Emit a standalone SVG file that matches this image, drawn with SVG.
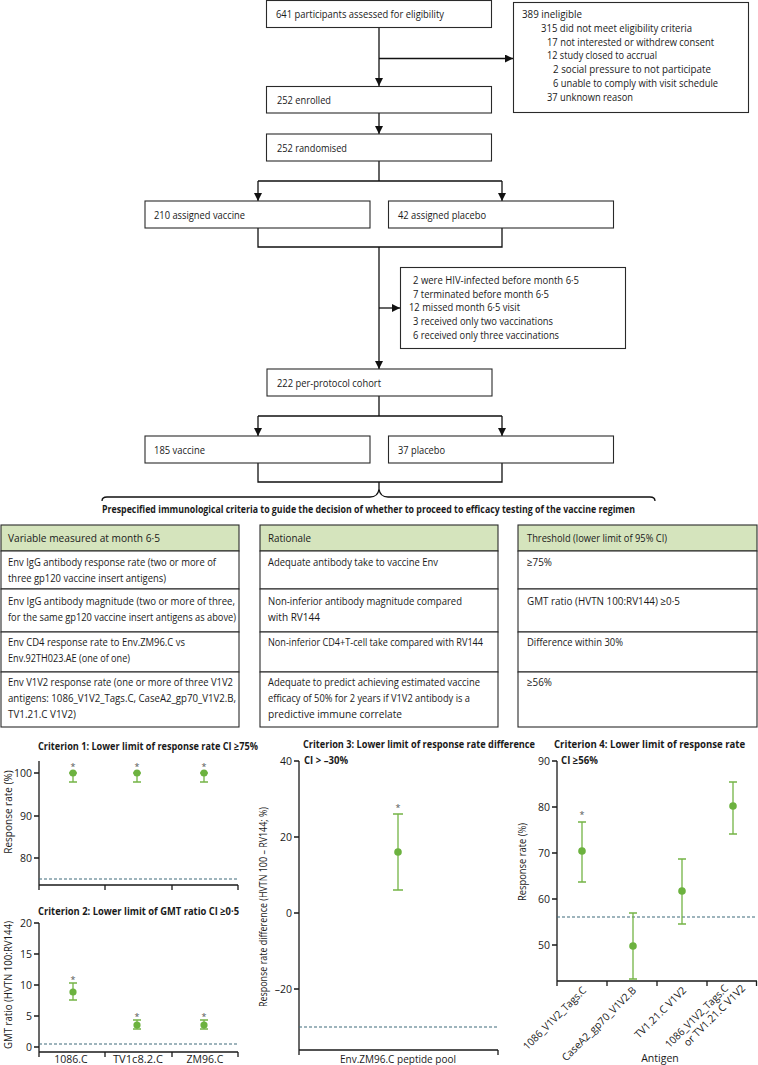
<svg xmlns="http://www.w3.org/2000/svg" width="758" height="1065" viewBox="0 0 758 1065">
<style>
text{font-family:"Open Sans","Noto Sans","Liberation Sans",sans-serif;fill:#1a1a1a}
.f{font-size:10.5px}
.t{font-size:10.5px}
.b{font-weight:bold}
.box{fill:#fff;stroke:#2a2a2a;stroke-width:1.1}
.hdr{fill:#d5e4bd;stroke:#2a2a2a;stroke-width:1.1}
.cell{fill:#fff;stroke:#2a2a2a;stroke-width:1.1}
.ln{fill:none;stroke:#111;stroke-width:1.3}
.ax{fill:none;stroke:#1a1a1a;stroke-width:1.3}
.dash{fill:none;stroke:#3e6a7a;stroke-width:1.1;stroke-dasharray:3 2}
.eb{fill:none;stroke:#74b446;stroke-width:1.3}
.dot{fill:#6cb23f}
.tk{font-size:10.5px}
.yl{font-size:10px}
.ast{font-size:9px;fill:#555}
.ct{font-size:10.5px;font-weight:bold}
</style>
<defs>
<marker id="ah" markerUnits="userSpaceOnUse" markerWidth="8" markerHeight="8" refX="8" refY="4" orient="auto">
<path d="M0,0 L8,4 L0,8 z" fill="#111"/>
</marker>
</defs>

<g id="connectors">
<path class="ln" d="M379,27 V86" marker-end="url(#ah)"/>
<path class="ln" d="M379,58.5 H513" marker-end="url(#ah)"/>
<path class="ln" d="M379,113 V134" marker-end="url(#ah)"/>
<path class="ln" d="M379,161 V181 M258,181 H502"/>
<path class="ln" d="M258,181 V201" marker-end="url(#ah)"/>
<path class="ln" d="M502,181 V201" marker-end="url(#ah)"/>
<path class="ln" d="M258,228 V247 H502 V228"/>
<path class="ln" d="M379,247 V369" marker-end="url(#ah)"/>
<path class="ln" d="M379,308 H400" marker-end="url(#ah)"/>
<path class="ln" d="M379,396 V416 M258,416 H502"/>
<path class="ln" d="M258,416 V436" marker-end="url(#ah)"/>
<path class="ln" d="M502,416 V436" marker-end="url(#ah)"/>
<path class="ln" d="M258,463 V482 H502 V463 M379,482 V489"/>
<path class="ln" d="M102,501 Q102,497 107,497 H370 Q378,497 379,489 Q380,497 388,497 H650 Q655,497 655,501"/>
</g>

<g id="n-assessed">
<rect class="box" x="266.5" y="0.5" width="225" height="27"/>
<text class="f" x="276" y="17.5" textLength="168" lengthAdjust="spacingAndGlyphs">641 participants assessed for eligibility</text>
</g>
<g id="n-ineligible">
<rect class="box" x="513.5" y="2.5" width="235" height="110"/>
<text class="f" x="522" y="17.5" textLength="60" lengthAdjust="spacingAndGlyphs">389 ineligible</text>
<text class="f" x="541" y="31.5" textLength="151" lengthAdjust="spacingAndGlyphs">315 did not meet eligibility criteria</text>
<text class="f" x="547" y="45.5" textLength="167" lengthAdjust="spacingAndGlyphs">17 not interested or withdrew consent</text>
<text class="f" x="547" y="59" textLength="110" lengthAdjust="spacingAndGlyphs">12 study closed to accrual</text>
<text class="f" x="553" y="73" textLength="158" lengthAdjust="spacingAndGlyphs">2 social pressure to not participate</text>
<text class="f" x="553" y="87" textLength="165" lengthAdjust="spacingAndGlyphs">6 unable to comply with visit schedule</text>
<text class="f" x="547" y="101" textLength="86" lengthAdjust="spacingAndGlyphs">37 unknown reason</text>
</g>
<g id="n-enrolled">
<rect class="box" x="266.5" y="86.5" width="225" height="26.5"/>
<text class="f" x="277" y="104" textLength="54" lengthAdjust="spacingAndGlyphs">252 enrolled</text>
</g>
<g id="n-randomised">
<rect class="box" x="266.5" y="134" width="225" height="27"/>
<text class="f" x="277" y="151.5" textLength="70" lengthAdjust="spacingAndGlyphs">252 randomised</text>
</g>
<g id="n-vaccine">
<rect class="box" x="145" y="201" width="225" height="27"/>
<text class="f" x="154" y="218.5" textLength="91" lengthAdjust="spacingAndGlyphs">210 assigned vaccine</text>
</g>
<g id="n-placebo">
<rect class="box" x="388.5" y="201" width="225" height="27"/>
<text class="f" x="398" y="218.5" textLength="88" lengthAdjust="spacingAndGlyphs">42 assigned placebo</text>
</g>
<g id="n-excluded">
<rect class="box" x="400.5" y="267.5" width="225" height="81"/>
<text class="f" x="413" y="284" textLength="166" lengthAdjust="spacingAndGlyphs">2 were HIV-infected before month 6·5</text>
<text class="f" x="413" y="297.5" textLength="136" lengthAdjust="spacingAndGlyphs">7 terminated before month 6·5</text>
<text class="f" x="409" y="311" textLength="111" lengthAdjust="spacingAndGlyphs">12 missed month 6·5 visit</text>
<text class="f" x="413" y="325" textLength="140" lengthAdjust="spacingAndGlyphs">3 received only two vaccinations</text>
<text class="f" x="413" y="338.5" textLength="146" lengthAdjust="spacingAndGlyphs">6 received only three vaccinations</text>
</g>
<g id="n-perprotocol">
<rect class="box" x="267" y="369" width="225" height="27"/>
<text class="f" x="277" y="386.5" textLength="104" lengthAdjust="spacingAndGlyphs">222 per-protocol cohort</text>
</g>
<g id="n-pp-vaccine">
<rect class="box" x="145" y="436" width="225" height="27"/>
<text class="f" x="154" y="453.5" textLength="51" lengthAdjust="spacingAndGlyphs">185 vaccine</text>
</g>
<g id="n-pp-placebo">
<rect class="box" x="388.5" y="436" width="225" height="27"/>
<text class="f" x="398" y="453.5" textLength="47" lengthAdjust="spacingAndGlyphs">37 placebo</text>
</g>

<g id="criteria-title">
<text class="b" x="102" y="513" font-size="10.5" textLength="533" lengthAdjust="spacingAndGlyphs">Prespecified immunological criteria to guide the decision of whether to proceed to efficacy testing of the vaccine regimen</text>
</g>

<g id="table-variable">
<rect class="hdr" x="1" y="525" width="238" height="26"/>
<rect class="cell" x="1" y="551" width="238" height="38"/>
<rect class="cell" x="1" y="589" width="238" height="43"/>
<rect class="cell" x="1" y="632" width="238" height="40"/>
<rect class="cell" x="1" y="672" width="238" height="55"/>
<text class="t" x="8" y="541.5" textLength="152" lengthAdjust="spacingAndGlyphs">Variable measured at month 6·5</text>
<text class="t" x="8" y="566" textLength="208" lengthAdjust="spacingAndGlyphs">Env IgG antibody response rate (two or more of</text>
<text class="t" x="8" y="582" textLength="158" lengthAdjust="spacingAndGlyphs">three gp120 vaccine insert antigens)</text>
<text class="t" x="8" y="605" textLength="227" lengthAdjust="spacingAndGlyphs">Env IgG antibody magnitude (two or more of three,</text>
<text class="t" x="8" y="621" textLength="228" lengthAdjust="spacingAndGlyphs">for the same gp120 vaccine insert antigens as above)</text>
<text class="t" x="8" y="646" textLength="177" lengthAdjust="spacingAndGlyphs">Env CD4 response rate to Env.ZM96.C vs</text>
<text class="t" x="8" y="662" textLength="122" lengthAdjust="spacingAndGlyphs">Env.92TH023.AE (one of one)</text>
<text class="t" x="8" y="686" textLength="225" lengthAdjust="spacingAndGlyphs">Env V1V2 response rate (one or more of three V1V2</text>
<text class="t" x="8" y="702" textLength="228" lengthAdjust="spacingAndGlyphs">antigens: 1086_V1V2_Tags.C, CaseA2_gp70_V1V2.B,</text>
<text class="t" x="8" y="718" textLength="68" lengthAdjust="spacingAndGlyphs">TV1.21.C V1V2)</text>
</g>
<g id="table-rationale">
<rect class="hdr" x="260" y="525" width="238" height="26"/>
<rect class="cell" x="260" y="551" width="238" height="38"/>
<rect class="cell" x="260" y="589" width="238" height="43"/>
<rect class="cell" x="260" y="632" width="238" height="40"/>
<rect class="cell" x="260" y="672" width="238" height="55"/>
<text class="t" x="268" y="541.5" textLength="43" lengthAdjust="spacingAndGlyphs">Rationale</text>
<text class="t" x="268" y="566" textLength="170" lengthAdjust="spacingAndGlyphs">Adequate antibody take to vaccine Env</text>
<text class="t" x="268" y="605" textLength="194" lengthAdjust="spacingAndGlyphs">Non-inferior antibody magnitude compared</text>
<text class="t" x="268" y="621" textLength="52" lengthAdjust="spacingAndGlyphs">with RV144</text>
<text class="t" x="268" y="646" textLength="215" lengthAdjust="spacingAndGlyphs">Non-inferior CD4+T-cell take compared with RV144</text>
<text class="t" x="268" y="686" textLength="212" lengthAdjust="spacingAndGlyphs">Adequate to predict achieving estimated vaccine</text>
<text class="t" x="268" y="702" textLength="202" lengthAdjust="spacingAndGlyphs">efficacy of 50% for 2 years if V1V2 antibody is a</text>
<text class="t" x="268" y="718" textLength="134" lengthAdjust="spacingAndGlyphs">predictive immune correlate</text>
</g>
<g id="table-threshold">
<rect class="hdr" x="518" y="525" width="239" height="26"/>
<rect class="cell" x="518" y="551" width="239" height="38"/>
<rect class="cell" x="518" y="589" width="239" height="43"/>
<rect class="cell" x="518" y="632" width="239" height="40"/>
<rect class="cell" x="518" y="672" width="239" height="55"/>
<text class="t" x="527" y="541.5" textLength="140" lengthAdjust="spacingAndGlyphs">Threshold (lower limit of 95% CI)</text>
<text class="t" x="527" y="566" textLength="25" lengthAdjust="spacingAndGlyphs">≥75%</text>
<text class="t" x="527" y="605" textLength="153" lengthAdjust="spacingAndGlyphs">GMT ratio (HVTN 100:RV144) ≥0·5</text>
<text class="t" x="527" y="646" textLength="96" lengthAdjust="spacingAndGlyphs">Difference within 30%</text>
<text class="t" x="527" y="686" textLength="25" lengthAdjust="spacingAndGlyphs">≥56%</text>
</g>

<g id="chart1">
<text class="ct" x="38" y="750" textLength="220" lengthAdjust="spacingAndGlyphs">Criterion 1: Lower limit of response rate CI ≥75%</text>
<path class="ax" d="M39,761 V885 H238 M34,773 H39 M34,816 H39 M34,858 H39 M39,885 V890 M105,885 V890 M172,885 V890 M238,885 V890"/>
<text class="tk" x="32" y="777" text-anchor="end">100</text>
<text class="tk" x="32" y="820" text-anchor="end">90</text>
<text class="tk" x="32" y="862" text-anchor="end">80</text>
<text class="yl" transform="translate(12,812) rotate(-90)" text-anchor="middle">Response rate (%)</text>
<path class="dash" d="M39,879 H238"/>
<path class="eb" d="M73,773 V782 M69,782 H77 M69,773 H77 M137,773 V782 M133,782 H141 M133,773 H141 M204,773 V782 M200,782 H208 M200,773 H208"/>
<circle class="dot" cx="73" cy="773" r="3.6"/>
<circle class="dot" cx="137" cy="773" r="3.6"/>
<circle class="dot" cx="204" cy="773" r="3.6"/>
<text class="ast" x="73" y="770" text-anchor="middle">*</text>
<text class="ast" x="137" y="770" text-anchor="middle">*</text>
<text class="ast" x="204" y="770" text-anchor="middle">*</text>
</g>

<g id="chart2">
<text class="ct" x="38" y="915" textLength="201" lengthAdjust="spacingAndGlyphs">Criterion 2: Lower limit of GMT ratio CI ≥0·5</text>
<path class="ax" d="M39,923 V1052 H238 M34,923 H39 M34,954 H39 M34,985 H39 M34,1016 H39 M34,1047 H39 M39,1052 V1057 M105,1052 V1057 M172,1052 V1057 M238,1052 V1057"/>
<text class="tk" x="32" y="927" text-anchor="end">20</text>
<text class="tk" x="32" y="958" text-anchor="end">15</text>
<text class="tk" x="32" y="989" text-anchor="end">10</text>
<text class="tk" x="32" y="1020" text-anchor="end">5</text>
<text class="tk" x="32" y="1051" text-anchor="end">0</text>
<text class="yl" transform="translate(12,985) rotate(-90)" text-anchor="middle" textLength="128" lengthAdjust="spacingAndGlyphs">GMT ratio (HVTN 100:RV144)</text>
<path class="dash" d="M39,1044 H238"/>
<path class="eb" d="M73,983 V1000 M69,983 H77 M69,1000 H77 M137,1020 V1029 M133,1020 H141 M133,1029 H141 M204,1020 V1029 M200,1020 H208 M200,1029 H208"/>
<circle class="dot" cx="73" cy="992" r="3.6"/>
<circle class="dot" cx="137" cy="1025" r="3.6"/>
<circle class="dot" cx="204" cy="1025" r="3.6"/>
<text class="ast" x="73" y="983" text-anchor="middle">*</text>
<text class="ast" x="137" y="1020" text-anchor="middle">*</text>
<text class="ast" x="204" y="1020" text-anchor="middle">*</text>
<text class="tk" x="71" y="1063" text-anchor="middle">1086.C</text>
<text class="tk" x="138" y="1063" text-anchor="middle" textLength="50" lengthAdjust="spacingAndGlyphs">TV1c8.2.C</text>
<text class="tk" x="205" y="1063" text-anchor="middle">ZM96.C</text>
</g>

<g id="chart3">
<text class="ct" x="303" y="748" textLength="232" lengthAdjust="spacingAndGlyphs">Criterion 3: Lower limit of response rate difference</text>
<text class="ct" x="304" y="764" textLength="44" lengthAdjust="spacingAndGlyphs">CI &gt; –30%</text>
<path class="ax" d="M299,761 V1050 H498 M294,761 H299 M294,837 H299 M294,913 H299 M294,989 H299 M299,1050 V1055 M498,1050 V1055"/>
<text class="tk" x="292" y="765" text-anchor="end">40</text>
<text class="tk" x="292" y="841" text-anchor="end">20</text>
<text class="tk" x="292" y="917" text-anchor="end">0</text>
<text class="tk" x="292" y="993" text-anchor="end">–20</text>
<text class="yl" transform="translate(267,907) rotate(-90)" text-anchor="middle" textLength="200" lengthAdjust="spacingAndGlyphs">Response rate difference (HVTN 100 – RV144; %)</text>
<path class="dash" d="M299,1027 H498"/>
<path class="eb" d="M398,814 V890 M393,814 H403 M393,890 H403"/>
<circle class="dot" cx="398" cy="852" r="3.8"/>
<text class="ast" x="398" y="811" text-anchor="middle">*</text>
<text class="tk" x="398" y="1063" text-anchor="middle" textLength="116" lengthAdjust="spacingAndGlyphs">Env.ZM96.C peptide pool</text>
</g>

<g id="chart4">
<text class="ct" transform="translate(554,748) scale(0.8,1)" x="0" y="0" textLength="239" lengthAdjust="spacingAndGlyphs">Criterion 4: Lower limit of response rate</text>
<text class="ct" x="561" y="764" textLength="37" lengthAdjust="spacingAndGlyphs">CI ≥56%</text>
<path class="ax" d="M557,761 V981 H757 M552,761 H557 M552,807 H557 M552,853 H557 M552,899 H557 M552,945 H557 M557,981 V986 M607,981 V986 M657,981 V986 M707,981 V986 M756.5,981 V986"/>
<text class="tk" x="550" y="765" text-anchor="end">90</text>
<text class="tk" x="550" y="811" text-anchor="end">80</text>
<text class="tk" x="550" y="857" text-anchor="end">70</text>
<text class="tk" x="550" y="903" text-anchor="end">60</text>
<text class="tk" x="550" y="949" text-anchor="end">50</text>
<text class="yl" transform="translate(526,862) rotate(-90)" text-anchor="middle" textLength="78" lengthAdjust="spacingAndGlyphs">Response rate (%)</text>
<path class="dash" d="M557,917 H757"/>
<path class="eb" d="M582,822 V882 M578,822 H586 M578,882 H586 M633,913 V979 M629,913 H637 M629,979 H637 M682,859 V924 M678,859 H686 M678,924 H686 M733,782 V834 M729,782 H737 M729,834 H737"/>
<circle class="dot" cx="582" cy="851" r="3.8"/>
<circle class="dot" cx="633" cy="946" r="3.8"/>
<circle class="dot" cx="682" cy="891" r="3.8"/>
<circle class="dot" cx="733" cy="806" r="3.8"/>
<text class="ast" x="582" y="818" text-anchor="middle">*</text>
<text class="tk" transform="translate(587,991) rotate(-45)" text-anchor="end" textLength="84" lengthAdjust="spacingAndGlyphs">1086_V1V2_Tags.C</text>
<text class="tk" transform="translate(637,991) rotate(-45)" text-anchor="end" textLength="100" lengthAdjust="spacingAndGlyphs">CaseA2_gp70_V1V2.B</text>
<text class="tk" transform="translate(687,991) rotate(-45)" text-anchor="end" textLength="68" lengthAdjust="spacingAndGlyphs">TV1.21.C V1V2</text>
<text class="tk" transform="translate(729,989) rotate(-45)" text-anchor="end"><tspan x="0" y="0" textLength="84" lengthAdjust="spacingAndGlyphs">1086_V1V2_Tags.C</tspan><tspan x="12" y="12" textLength="82" lengthAdjust="spacingAndGlyphs">or TV1.21.C V1V2</tspan></text>
<text class="tk" x="660" y="1062" text-anchor="middle">Antigen</text>
</g>
</svg>
